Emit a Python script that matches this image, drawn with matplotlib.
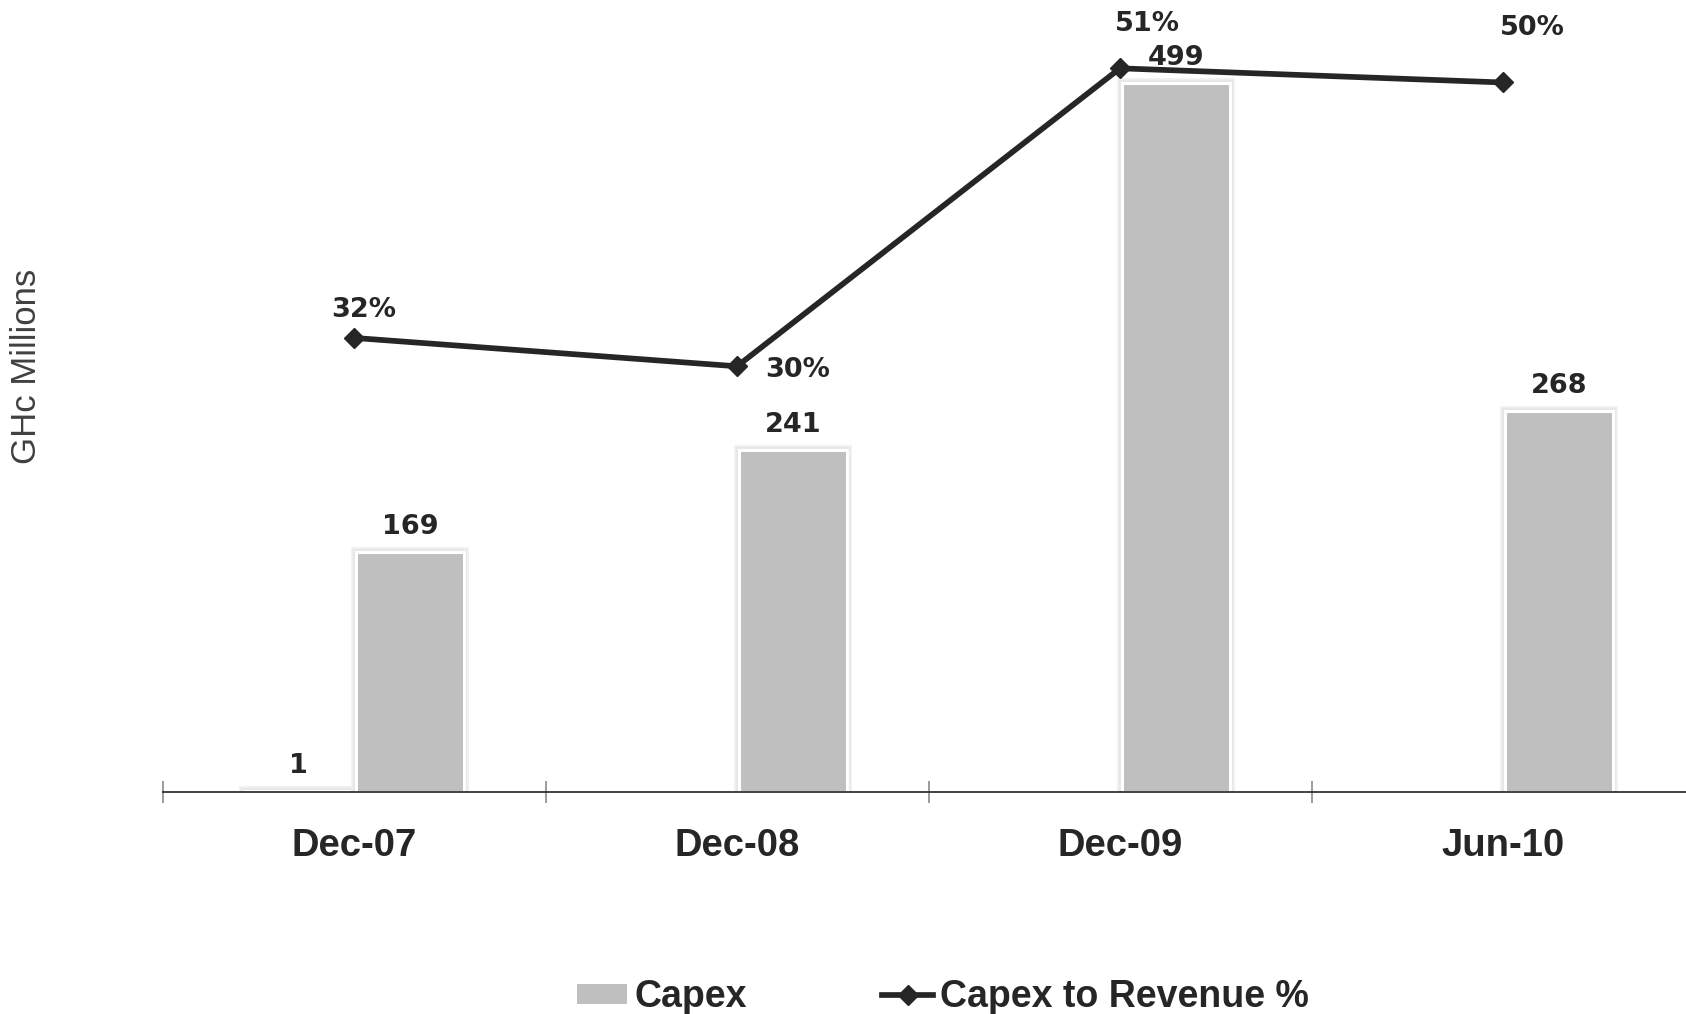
import matplotlib
matplotlib.use("Agg")
import matplotlib.pyplot as plt
import matplotlib.patheffects as pe
from matplotlib.lines import Line2D
from matplotlib.patches import Patch
import numpy as np

# Data
categories = ["Dec-07", "Dec-08", "Dec-09", "Jun-10"]
capex_prior = [1, 0, 0, 0]          # first bar of each period (only Dec-07 carries a value)
capex = [169, 241, 499, 268]        # GHc millions
capex_to_revenue = [32, 30, 51, 50]  # percent

# Layout for the percentage labels (pixel offsets from each point)
pct_label_offsets = [(10, 28), (61, -4), (27, 44), (29, 54)]

TEXT = "#262626"
BAR = "#bfbfbf"
LINE = "#262626"

fig = plt.figure(figsize=(16.86, 10.14), dpi=100)
ax = fig.add_axes([162.5 / 1686, 222 / 1014, 1532 / 1686, 792 / 1014])
ax2 = ax.twinx()

x = np.arange(len(categories))
off = 0.146
w = 0.283

# soft grey glow around each bar, white rim, then the grey fill
glow = [pe.Stroke(linewidth=7, foreground="#f0f0f0"),
        pe.Stroke(linewidth=4.5, foreground="#e2e2e2", alpha=0.6),
        pe.Normal()]

prior = np.array(capex_prior, dtype=float)
has_prior = prior > 0
ax.bar((x - off)[has_prior], prior[has_prior], width=w, color=BAR, edgecolor="white",
       linewidth=2.2, path_effects=glow, zorder=2)
ax.bar(x + off, capex, width=w, color=BAR, edgecolor="white",
       linewidth=2.2, path_effects=glow, zorder=2)

label_kw = dict(textcoords="offset pixels", ha="center", va="center",
                fontsize=19.5, fontweight="bold", color=TEXT, family="DejaVu Sans")
for xi, v in zip(x - off, capex_prior):
    if v:
        ax.annotate(f"{v:,}", (xi, v), xytext=(0, 25), **label_kw)
for xi, v in zip(x + off, capex):
    ax.annotate(f"{v:,}", (xi, v), xytext=(0, 25), **label_kw)

ax.set_xlim(-0.5, 3.5)
ax.set_ylim(0, 792 / (709 / 499))
ax2.set_ylim(0, 792 / 14.19)

ax2.plot(x, capex_to_revenue, color=LINE, lw=4.1, marker="D", ms=10.5,
         mfc=LINE, mec=LINE, zorder=3)
for xi, v, (dx, dy) in zip(x, capex_to_revenue, pct_label_offsets):
    ax2.annotate(f"{v}%", (xi, v), xytext=(dx, dy), **label_kw)

for a in (ax, ax2):
    for s in ("top", "left", "right"):
        a.spines[s].set_visible(False)
    a.set_yticks([])
ax2.spines["bottom"].set_visible(False)
ax.spines["bottom"].set_color("#222222")
ax.spines["bottom"].set_linewidth(1.2)
ax.spines["bottom"].set_zorder(3)

ax.set_xticks(x)
ax.set_xticklabels(categories, fontsize=27.5, fontweight="bold", color=TEXT,
                   family="Liberation Sans")
ax.tick_params(axis="x", which="major", length=0, pad=26)
ax.set_xticks(np.arange(-0.5, 3.5, 1.0), minor=True)
ax.tick_params(axis="x", which="minor", length=16, width=1.1, direction="inout",
               color="#808080")

fig.text(27 / 1686, 1 - 366.5 / 1014, "GHc Millions", rotation=90, ha="center",
         va="center", fontsize=25, color="#404040", family="Liberation Sans")

handles = [Patch(facecolor=BAR, edgecolor="none"),
           Line2D([], [], color=LINE, lw=4.1, marker="D", ms=10.5, mfc=LINE, mec=LINE)]
fig.legend(handles, ["Capex", "Capex to Revenue %"], loc="center",
           bbox_to_anchor=(943 / 1686, 1 - 997 / 1014), ncol=2, frameon=False,
           prop={"family": "Liberation Sans", "weight": "bold", "size": 27},
           handlelength=1.35, handleheight=0.45, handletextpad=0.2,
           columnspacing=3.6, labelcolor=TEXT, borderpad=0, borderaxespad=0)

fig.savefig("out.png", dpi=100)
